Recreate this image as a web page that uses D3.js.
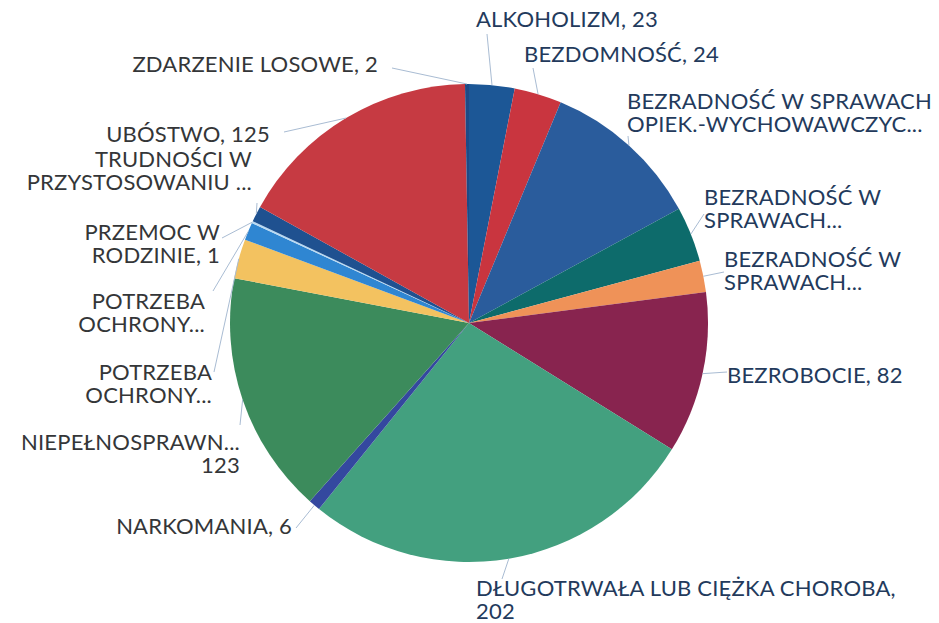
<!DOCTYPE html>
<html>
<head>
<meta charset="utf-8">
<script src="https://cdn.jsdelivr.net/npm/d3@7.9.0/dist/d3.min.js"></script>
<style>
  html, body { margin: 0; padding: 0; background: #fff; }
  svg { display: block; }
  .lbl { font-family: Lato, "Noto Sans", sans-serif; font-size: 22px; letter-spacing: 0.2px; }
</style>
</head>
<body>
<svg id="chart" width="939" height="623"></svg>
<script>
// categories in the order the slices run clockwise from 12 o'clock
const categories = [
  "ALKOHOLIZM", "BEZDOMNOŚĆ", "BEZRADNOŚĆ W SPRAWACH OPIEK.-WYCHOWAWCZYCH",
  "BEZRADNOŚĆ W SPRAWACH A", "BEZRADNOŚĆ W SPRAWACH B", "BEZROBOCIE",
  "DŁUGOTRWAŁA LUB CIĘŻKA CHOROBA", "NARKOMANIA", "NIEPEŁNOSPRAWNOŚĆ",
  "POTRZEBA OCHRONY A", "POTRZEBA OCHRONY B", "PRZEMOC W RODZINIE",
  "TRUDNOŚCI W PRZYSTOSOWANIU", "UBÓSTWO", "ZDARZENIE LOSOWE"
];
// values (the ones without a printed number are estimated from slice angles)
const values = [23, 24, 81, 28, 16, 82, 202, 6, 123, 20, 9, 1, 8, 125, 2];
// label text as printed (lines)
const labelLines = [
  ["ALKOHOLIZM, 23"],
  ["BEZDOMNOŚĆ, 24"],
  ["BEZRADNOŚĆ W SPRAWACH", "OPIEK.-WYCHOWAWCZYC..."],
  ["BEZRADNOŚĆ W", "SPRAWACH..."],
  ["BEZRADNOŚĆ W", "SPRAWACH..."],
  ["BEZROBOCIE, 82"],
  ["DŁUGOTRWAŁA LUB CIĘŻKA CHOROBA,", "202"],
  ["NARKOMANIA, 6"],
  ["NIEPEŁNOSPRAWN...", "123"],
  ["POTRZEBA", "OCHRONY..."],
  ["POTRZEBA", "OCHRONY..."],
  ["PRZEMOC W", "RODZINIE, 1"],
  ["TRUDNOŚCI W", "PRZYSTOSOWANIU ..."],
  ["UBÓSTWO, 125"],
  ["ZDARZENIE LOSOWE, 2"]
];
const colors = [
  "#1c5796", "#c9353f", "#2a5c9c", "#0d6b6b", "#ef9258", "#88244f",
  "#43a07f", "#34489f", "#3c8b5c", "#f3c260", "#2f86d2", "#b9d9f2",
  "#1f5190", "#c63a42", "#1d4a86"
];

// label layout: text anchor point (x, first baseline), alignment, leader start
const labelLayout = [
  { x: 476, y: 27,  anchor: "start", lx: 487, ly: 34 },
  { x: 524, y: 62,  anchor: "start", lx: 533, ly: 68 },
  { x: 627, y: 109, anchor: "start", lx: 628, ly: 136 },
  { x: 704, y: 205, anchor: "start", lx: 704, ly: 214 },
  { x: 724, y: 267, anchor: "start", lx: 724, ly: 272 },
  { x: 727, y: 383, anchor: "start", lx: 727, ly: 372 },
  { x: 476, y: 596, anchor: "start", lx: 502, ly: 579 },
  { x: 292, y: 534, anchor: "end",   lx: 296, ly: 528 },
  { x: 240, y: 450, anchor: "end",   lx: 240, ly: 425 },
  { x: 212, y: 380, anchor: "end",   lx: 214, ly: 372 },
  { x: 205, y: 309, anchor: "end",   lx: 213, ly: 291 },
  { x: 220, y: 240, anchor: "end",   lx: 222, ly: 238 },
  { x: 252, y: 167, anchor: "end",   lx: 257, ly: 203 },
  { x: 270, y: 142, anchor: "end",   lx: 284, ly: 132 },
  { x: 378, y: 72,  anchor: "end",   lx: 392, ly: 68 }
];
const rightSide = [true, true, true, true, true, true, true,
  false, false, false, false, false, false, false, false];

const data = categories.map((c, i) => ({ category: c, value: values[i], i }));

const cx = 469, cy = 323, radius = 239;
const svg = d3.select("#chart");
const g = svg.append("g").attr("transform", `translate(${cx},${cy})`);

const pie = d3.pie().sort(null).value(d => d.value);
const arc = d3.arc().innerRadius(0).outerRadius(radius);
const edge = d3.arc().innerRadius(radius).outerRadius(radius);
const arcs = pie(data);

// slices
g.selectAll("path.slice")
  .data(arcs)
  .join("path")
  .attr("class", "slice")
  .attr("d", arc)
  .attr("fill", d => colors[d.data.i]);

// leader lines from label to slice edge
g.selectAll("line.leader")
  .data(arcs)
  .join("line")
  .attr("class", "leader")
  .attr("x1", d => labelLayout[d.data.i].lx - cx)
  .attr("y1", d => labelLayout[d.data.i].ly - cy)
  .attr("x2", d => edge.centroid(d)[0])
  .attr("y2", d => edge.centroid(d)[1])
  .attr("stroke", "#a9bcd3")
  .attr("stroke-width", 1);

// labels
const lbl = svg.selectAll("text.lbl")
  .data(arcs)
  .join("text")
  .attr("class", "lbl")
  .attr("text-anchor", d => labelLayout[d.data.i].anchor)
  .attr("fill", d => rightSide[d.data.i] ? "#233a5c" : "#343638")
  .attr("y", d => labelLayout[d.data.i].y);

lbl.selectAll("tspan")
  .data(d => labelLines[d.data.i].map(t => ({ t, i: d.data.i })))
  .join("tspan")
  .attr("x", d => labelLayout[d.i].x)
  .attr("dy", (d, j) => j === 0 ? 0 : 23)
  .text(d => d.t);
</script>
</body>
</html>
